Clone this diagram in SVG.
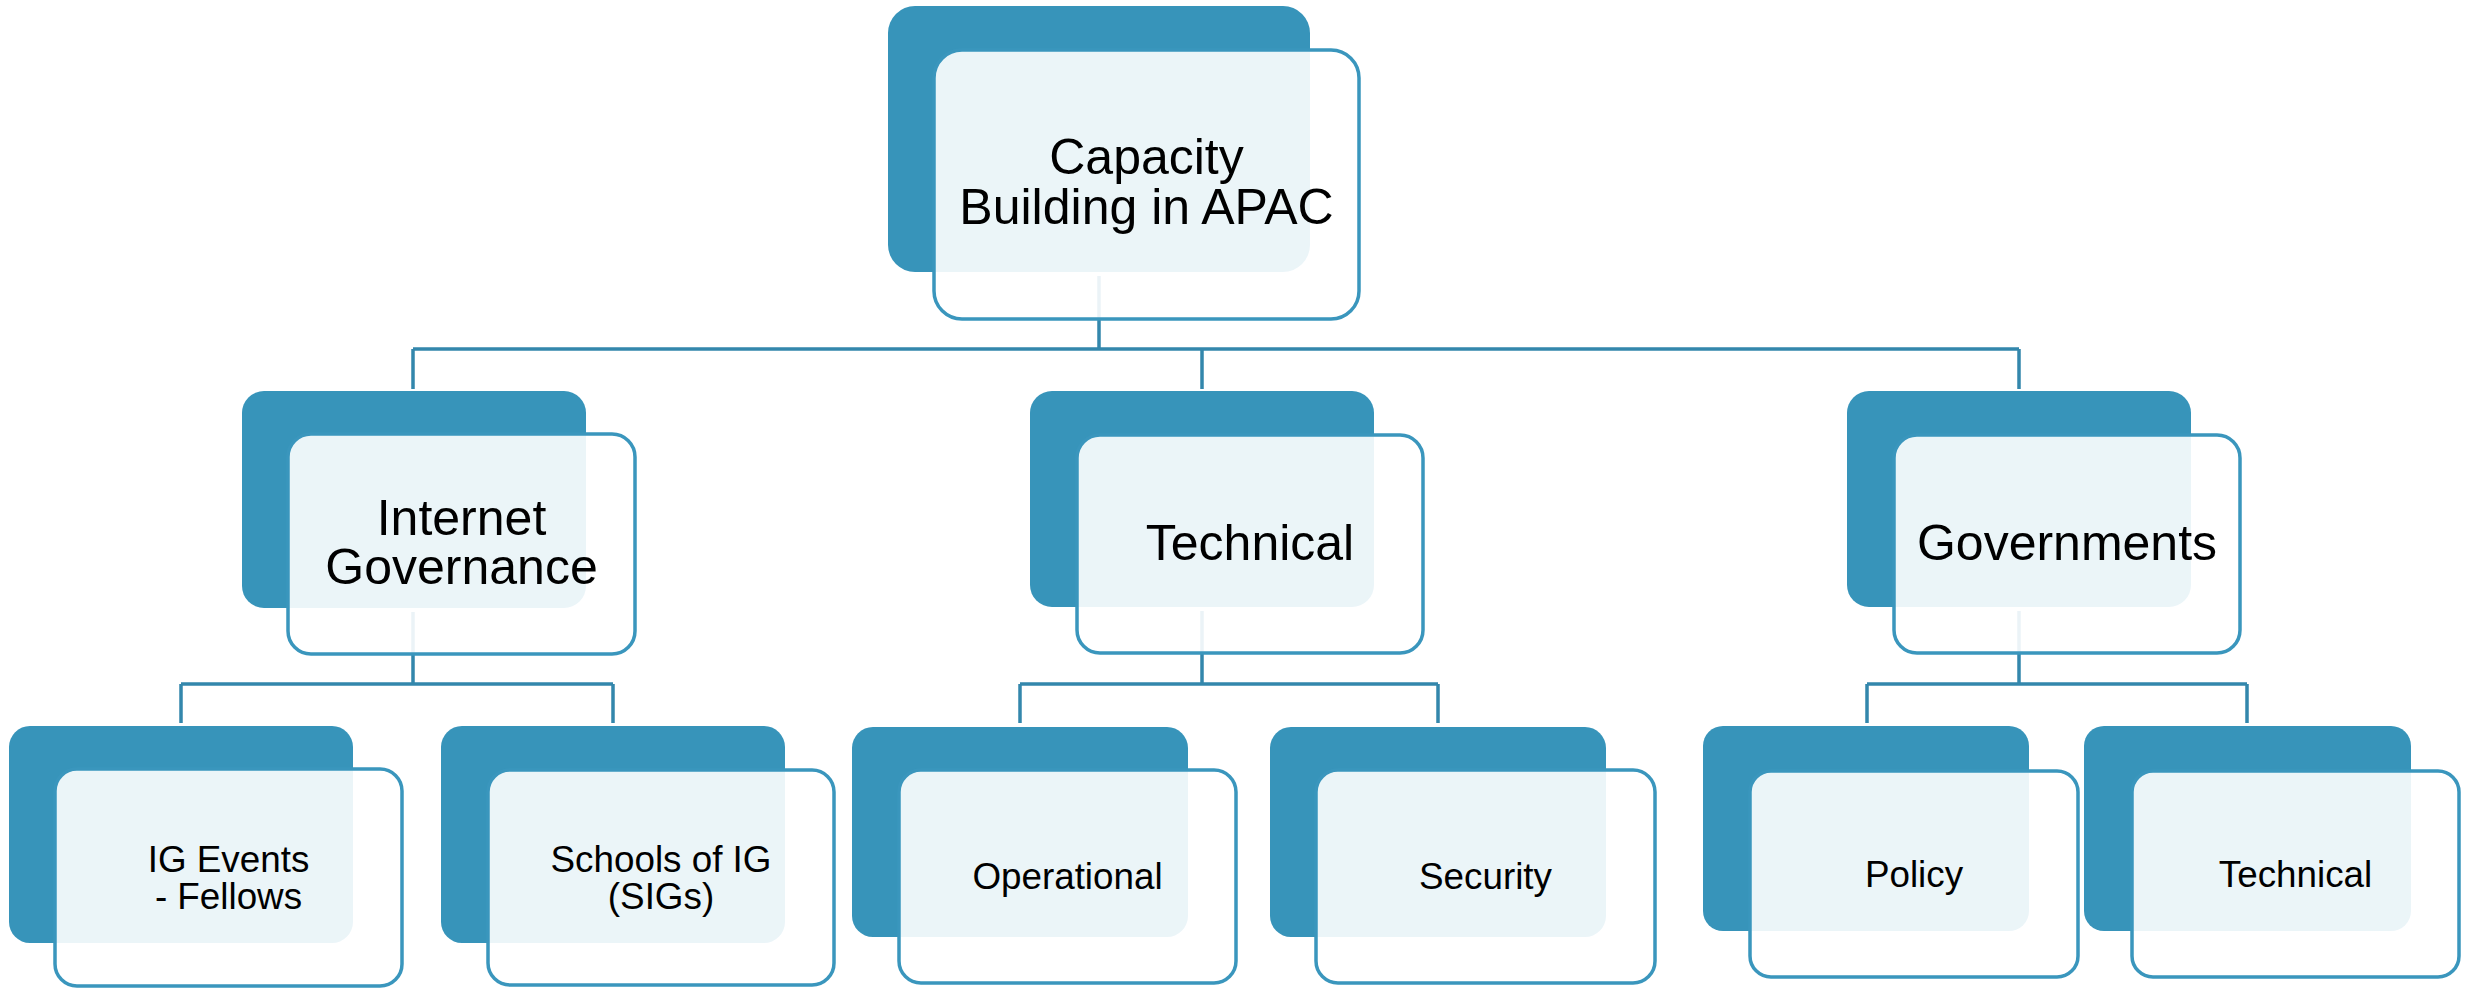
<svg xmlns="http://www.w3.org/2000/svg" width="2471" height="990" viewBox="0 0 2471 990">
  <style>
    .back { fill: #3794BA; }
    .front { fill: #FFFFFF; fill-opacity: 0.9; stroke: #3A96BD; stroke-width: 3.5; }
    .conn { fill: none; stroke: #3387AC; stroke-width: 3.5; }
    .t1 { font-family: "Liberation Sans", Arial, sans-serif; font-size: 50px; fill: #000; text-anchor: middle; }
    .t2 { font-family: "Liberation Sans", Arial, sans-serif; font-size: 36.8px; fill: #000; text-anchor: middle; }
  </style>
  <rect width="2471" height="990" fill="#FFFFFF"/>
  <g id="connectors">
    <path class="conn" d="M1099 276 V349 M413 349 H2019 M413 349 V389 M1202 349 V389 M2019 349 V389"/>
    <path class="conn" d="M413 612 V684 M181 684 H613 M181 684 V723 M613 684 V723"/>
    <path class="conn" d="M1202 611 V684 M1020 684 H1438 M1020 684 V723 M1438 684 V723"/>
    <path class="conn" d="M2019 611 V684 M1867 684 H2247 M1867 684 V723 M2247 684 V723"/>
  </g>
  <g id="node-root">
    <rect class="back" x="888" y="6" width="422" height="266" rx="27"/>
    <rect class="front" x="934" y="50" width="425" height="269" rx="28"/>
    <text class="t1" x="1146.5" y="174">Capacity</text>
    <text class="t1" x="1146.5" y="224">Building in APAC</text>
  </g>
  <g id="node-ig">
    <rect class="back" x="242" y="391" width="344" height="217" rx="22"/>
    <rect class="front" x="288" y="434" width="347" height="220" rx="23"/>
    <text class="t1" x="461.5" y="535">Internet</text>
    <text class="t1" x="461.5" y="584">Governance</text>
  </g>
  <g id="node-technical">
    <rect class="back" x="1030" y="391" width="344" height="216" rx="22"/>
    <rect class="front" x="1077" y="435" width="346" height="218" rx="23"/>
    <text class="t1" x="1250" y="560">Technical</text>
  </g>
  <g id="node-governments">
    <rect class="back" x="1847" y="391" width="344" height="216" rx="22"/>
    <rect class="front" x="1894" y="435" width="346" height="218" rx="23"/>
    <text class="t1" x="2067" y="560">Governments</text>
  </g>
  <g id="node-ig-events">
    <rect class="back" x="9" y="726" width="344" height="217" rx="21"/>
    <rect class="front" x="55" y="769" width="347" height="217" rx="22"/>
    <text class="t2" x="228.5" y="872">IG Events</text>
    <text class="t2" x="228.5" y="909">- Fellows</text>
  </g>
  <g id="node-schools">
    <rect class="back" x="441" y="726" width="344" height="217" rx="21"/>
    <rect class="front" x="488" y="770" width="346" height="215" rx="22"/>
    <text class="t2" x="661" y="872">Schools of IG</text>
    <text class="t2" x="661" y="909">(SIGs)</text>
  </g>
  <g id="node-operational">
    <rect class="back" x="852" y="727" width="336" height="210" rx="21"/>
    <rect class="front" x="899" y="770" width="337" height="213" rx="22"/>
    <text class="t2" x="1067.5" y="889">Operational</text>
  </g>
  <g id="node-security">
    <rect class="back" x="1270" y="727" width="336" height="210" rx="21"/>
    <rect class="front" x="1316" y="770" width="339" height="213" rx="22"/>
    <text class="t2" x="1485.5" y="889">Security</text>
  </g>
  <g id="node-policy">
    <rect class="back" x="1703" y="726" width="326" height="205" rx="20"/>
    <rect class="front" x="1750" y="771" width="328" height="206" rx="21"/>
    <text class="t2" x="1914" y="887">Policy</text>
  </g>
  <g id="node-technical-2">
    <rect class="back" x="2084" y="726" width="327" height="205" rx="20"/>
    <rect class="front" x="2132" y="771" width="327" height="206" rx="21"/>
    <text class="t2" x="2295.5" y="887">Technical</text>
  </g>
</svg>
